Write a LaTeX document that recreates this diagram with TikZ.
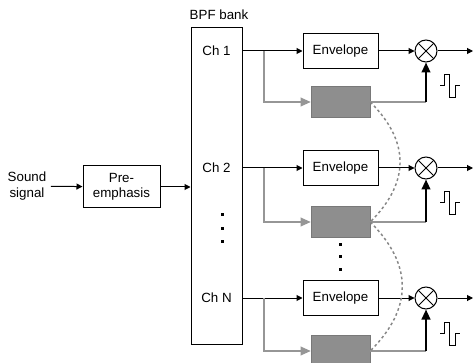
\documentclass[tikz,border=0pt]{standalone}
\usepackage{fontspec}
\setmainfont{Liberation Sans}
\usetikzlibrary{positioning,arrows.meta}

\definecolor{gatefill}{RGB}{142,142,142}
\definecolor{gateline}{RGB}{120,120,120}
\definecolor{linegray}{RGB}{150,150,150}
\definecolor{linkgray}{RGB}{135,135,135}

\begin{document}
\begin{tikzpicture}[
    x=0.75pt, y=-0.75pt,
    every node/.style={font=\fontsize{10}{11.5}\selectfont},
    block/.style={draw, rectangle, align=center, inner sep=0pt, line width=0.75pt},
    envbox/.style={block, minimum width=56.25pt, minimum height=26.25pt},
    gatebox/.style={rectangle, draw=gateline, fill=gatefill, inner sep=0pt, minimum width=44.25pt, minimum height=23.25pt},
    mult/.style={draw, circle, minimum size=16.5pt, inner sep=0pt, line width=0.75pt,
        path picture={\draw[line width=0.75pt] (path picture bounding box.south west) -- (path picture bounding box.north east)
            (path picture bounding box.north west) -- (path picture bounding box.south east);}},
    arrow/.style={-{Triangle[length=4.5pt,width=4.5pt]}, line width=0.75pt},
    grayline/.style={draw=linegray, line width=1pt},
    grayarrow/.style={grayline, -{Triangle[length=7.5pt,width=6.5pt]}},
    gatearrow/.style={-{Triangle[length=7.5pt,width=6.5pt]}, line width=1.5pt},
    link/.style={draw=linkgray, dash pattern=on 2pt off 2pt, line width=1.1pt},
    wave/.style={line width=0.75pt}
]
\useasboundingbox (0,0) rectangle (474,363);

% input side
\node[align=center] (sound) at (27,186) {Sound\\signal};
\node[block, minimum width=57.75pt, minimum height=31.5pt] (pre) at (121.5,187) {Pre-\\emphasis};

% filter bank
\node[block, minimum width=38.25pt, minimum height=237pt] (bpf) at (216.5,186) {};
\node (bank) at (219,15) {BPF bank};
\node (ch1) at (216.5,51) {Ch 1};
\node (ch2) at (216.5,168) {Ch 2};
\node (chn) at (216.5,298) {Ch N};
\foreach \y in {215,228,241}
    \fill (220.5,{\y-1.5}) rectangle ++(3,3);

\draw[arrow] (sound) -- (pre);
\draw[arrow] (pre) -- (pre -| bpf.west);

% channel 1
\node[envbox] (env1) at (340.5,51) {Envelope};
\node[gatebox] (gate1) at (340.5,102) {};
\node[mult] (mul1) at (426,51) {};
\coordinate (b1) at (264,51);
\coordinate (o1) at (473,51);
\draw[arrow] (ch1 -| bpf.east) -- (env1);
\draw[grayarrow] (b1) |- (gate1);
\draw[arrow] (env1) -- (mul1);
\draw[arrow] (mul1) -- (o1);
\draw[grayline] (gate1) -- (gate1 -| mul1);
\draw[gatearrow] (gate1 -| mul1) -- (mul1);
\draw[wave] (440,86) -- (444,86) -- (444,75) -- (449,75) -- (449,98) -- (455,98) -- (455,86) -- (460,86);

% channel 2
\node[envbox] (env2) at (340.5,168) {Envelope};
\node[gatebox] (gate2) at (340.5,222) {};
\node[mult] (mul2) at (426,168) {};
\coordinate (b2) at (264,168);
\coordinate (o2) at (473,168);
\draw[arrow] (ch2 -| bpf.east) -- (env2);
\draw[grayarrow] (b2) |- (gate2);
\draw[arrow] (env2) -- (mul2);
\draw[arrow] (mul2) -- (o2);
\draw[grayline] (gate2) -- (gate2 -| mul2);
\draw[gatearrow] (gate2 -| mul2) -- (mul2);
\draw[wave] (440,203) -- (444,203) -- (444,192) -- (449,192) -- (449,215) -- (455,215) -- (455,203) -- (460,203);

\foreach \y in {244,256,269}
    \fill (338.5,{\y-1.5}) rectangle ++(3,3);

% channel N
\node[envbox] (envn) at (340.5,298) {Envelope};
\node[gatebox] (gaten) at (340.5,351) {};
\node[mult] (muln) at (426,298) {};
\coordinate (bn) at (264,298);
\coordinate (on) at (473,298);
\draw[arrow] (chn -| bpf.east) -- (envn);
\draw[grayarrow] (bn) |- (gaten);
\draw[arrow] (envn) -- (muln);
\draw[arrow] (muln) -- (on);
\draw[grayline] (gaten) -- (gaten -| muln);
\draw[gatearrow] (gaten -| muln) -- (muln);
\draw[wave] (440,333) -- (444,333) -- (444,322) -- (449,322) -- (449,345) -- (455,345) -- (455,333) -- (460,333);

% links between gates
\draw[link] (gate1.east) to[out=-45, in=45, looseness=1.2] (gate2.east);
\draw[link] (gate2.east) to[out=-45, in=45, looseness=1.2] (gaten.east);
\end{tikzpicture}
\end{document}
